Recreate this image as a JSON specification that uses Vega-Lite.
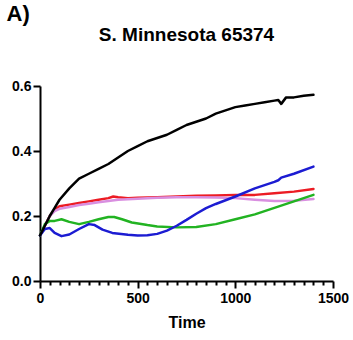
{
  "$schema": "https://vega.github.io/schema/vega-lite/v6.json",
  "padding": {"left": 6, "top": 3, "right": 0, "bottom": 2},
  "background": "white",
  "title": {"text": "A)", "anchor": "start", "fontSize": 22, "font": "Liberation Sans", "fontWeight": "bold", "color": "black", "frame": "bounds", "offset": 0, "dx": -5},
  "config": {
    "view": {"stroke": null},
    "font": "Liberation Sans",
    "concat": {"spacing": 0}
  },
  "vconcat": [
    {
      "width": 293,
      "height": 195,
      "title": {"text": "S. Minnesota 65374", "fontSize": 19, "fontWeight": "bold", "color": "black", "anchor": "middle", "frame": "group", "offset": 34},
      "data": {"values": [
        {"series": "red", "t": 0, "v": 0.14}, {"series": "red", "t": 25, "v": 0.17}, {"series": "red", "t": 50, "v": 0.2}, {"series": "red", "t": 75, "v": 0.22}, {"series": "red", "t": 100, "v": 0.23}, {"series": "red", "t": 150, "v": 0.235}, {"series": "red", "t": 200, "v": 0.24}, {"series": "red", "t": 250, "v": 0.245}, {"series": "red", "t": 300, "v": 0.25}, {"series": "red", "t": 350, "v": 0.255}, {"series": "red", "t": 375, "v": 0.26}, {"series": "red", "t": 400, "v": 0.258}, {"series": "red", "t": 450, "v": 0.255}, {"series": "red", "t": 500, "v": 0.256}, {"series": "red", "t": 600, "v": 0.258}, {"series": "red", "t": 700, "v": 0.26}, {"series": "red", "t": 800, "v": 0.262}, {"series": "red", "t": 900, "v": 0.263}, {"series": "red", "t": 1000, "v": 0.265}, {"series": "red", "t": 1100, "v": 0.265}, {"series": "red", "t": 1200, "v": 0.27}, {"series": "red", "t": 1300, "v": 0.275}, {"series": "red", "t": 1400, "v": 0.283},
        {"series": "violet", "t": 0, "v": 0.14}, {"series": "violet", "t": 25, "v": 0.17}, {"series": "violet", "t": 50, "v": 0.2}, {"series": "violet", "t": 75, "v": 0.215}, {"series": "violet", "t": 100, "v": 0.222}, {"series": "violet", "t": 150, "v": 0.228}, {"series": "violet", "t": 200, "v": 0.234}, {"series": "violet", "t": 250, "v": 0.238}, {"series": "violet", "t": 300, "v": 0.242}, {"series": "violet", "t": 350, "v": 0.246}, {"series": "violet", "t": 400, "v": 0.25}, {"series": "violet", "t": 500, "v": 0.253}, {"series": "violet", "t": 600, "v": 0.256}, {"series": "violet", "t": 700, "v": 0.258}, {"series": "violet", "t": 800, "v": 0.258}, {"series": "violet", "t": 900, "v": 0.257}, {"series": "violet", "t": 1000, "v": 0.255}, {"series": "violet", "t": 1100, "v": 0.25}, {"series": "violet", "t": 1200, "v": 0.246}, {"series": "violet", "t": 1300, "v": 0.247}, {"series": "violet", "t": 1400, "v": 0.252},
        {"series": "green", "t": 0, "v": 0.14}, {"series": "green", "t": 25, "v": 0.175}, {"series": "green", "t": 50, "v": 0.185}, {"series": "green", "t": 75, "v": 0.185}, {"series": "green", "t": 110, "v": 0.19}, {"series": "green", "t": 150, "v": 0.182}, {"series": "green", "t": 200, "v": 0.175}, {"series": "green", "t": 250, "v": 0.182}, {"series": "green", "t": 300, "v": 0.19}, {"series": "green", "t": 350, "v": 0.197}, {"series": "green", "t": 380, "v": 0.197}, {"series": "green", "t": 420, "v": 0.19}, {"series": "green", "t": 470, "v": 0.18}, {"series": "green", "t": 550, "v": 0.172}, {"series": "green", "t": 600, "v": 0.168}, {"series": "green", "t": 700, "v": 0.165}, {"series": "green", "t": 800, "v": 0.166}, {"series": "green", "t": 900, "v": 0.175}, {"series": "green", "t": 1000, "v": 0.19}, {"series": "green", "t": 1100, "v": 0.205}, {"series": "green", "t": 1200, "v": 0.225}, {"series": "green", "t": 1250, "v": 0.235}, {"series": "green", "t": 1300, "v": 0.245}, {"series": "green", "t": 1400, "v": 0.265},
        {"series": "blue", "t": 0, "v": 0.14}, {"series": "blue", "t": 25, "v": 0.16}, {"series": "blue", "t": 50, "v": 0.163}, {"series": "blue", "t": 75, "v": 0.148}, {"series": "blue", "t": 110, "v": 0.138}, {"series": "blue", "t": 150, "v": 0.143}, {"series": "blue", "t": 200, "v": 0.16}, {"series": "blue", "t": 250, "v": 0.175}, {"series": "blue", "t": 280, "v": 0.172}, {"series": "blue", "t": 320, "v": 0.158}, {"series": "blue", "t": 370, "v": 0.148}, {"series": "blue", "t": 450, "v": 0.142}, {"series": "blue", "t": 500, "v": 0.14}, {"series": "blue", "t": 550, "v": 0.141}, {"series": "blue", "t": 600, "v": 0.145}, {"series": "blue", "t": 650, "v": 0.155}, {"series": "blue", "t": 700, "v": 0.17}, {"series": "blue", "t": 750, "v": 0.188}, {"series": "blue", "t": 800, "v": 0.207}, {"series": "blue", "t": 850, "v": 0.224}, {"series": "blue", "t": 900, "v": 0.237}, {"series": "blue", "t": 1000, "v": 0.26}, {"series": "blue", "t": 1100, "v": 0.285}, {"series": "blue", "t": 1200, "v": 0.305}, {"series": "blue", "t": 1220, "v": 0.31}, {"series": "blue", "t": 1235, "v": 0.318}, {"series": "blue", "t": 1300, "v": 0.33}, {"series": "blue", "t": 1400, "v": 0.352},
        {"series": "black", "t": 0, "v": 0.14}, {"series": "black", "t": 25, "v": 0.17}, {"series": "black", "t": 50, "v": 0.2}, {"series": "black", "t": 75, "v": 0.225}, {"series": "black", "t": 100, "v": 0.25}, {"series": "black", "t": 150, "v": 0.285}, {"series": "black", "t": 200, "v": 0.315}, {"series": "black", "t": 250, "v": 0.33}, {"series": "black", "t": 300, "v": 0.345}, {"series": "black", "t": 350, "v": 0.36}, {"series": "black", "t": 400, "v": 0.38}, {"series": "black", "t": 450, "v": 0.4}, {"series": "black", "t": 500, "v": 0.415}, {"series": "black", "t": 550, "v": 0.43}, {"series": "black", "t": 600, "v": 0.44}, {"series": "black", "t": 650, "v": 0.45}, {"series": "black", "t": 700, "v": 0.465}, {"series": "black", "t": 750, "v": 0.48}, {"series": "black", "t": 800, "v": 0.49}, {"series": "black", "t": 850, "v": 0.5}, {"series": "black", "t": 900, "v": 0.515}, {"series": "black", "t": 950, "v": 0.525}, {"series": "black", "t": 1000, "v": 0.535}, {"series": "black", "t": 1050, "v": 0.54}, {"series": "black", "t": 1100, "v": 0.545}, {"series": "black", "t": 1150, "v": 0.55}, {"series": "black", "t": 1200, "v": 0.555}, {"series": "black", "t": 1220, "v": 0.557}, {"series": "black", "t": 1235, "v": 0.545}, {"series": "black", "t": 1260, "v": 0.565}, {"series": "black", "t": 1300, "v": 0.565}, {"series": "black", "t": 1350, "v": 0.57}, {"series": "black", "t": 1400, "v": 0.573}
      ]},
      "mark": {"type": "line", "strokeWidth": 2.5, "strokeCap": "round", "strokeJoin": "round"},
      "encoding": {
        "x": {
          "field": "t", "type": "quantitative",
          "scale": {"domain": [0, 1500], "nice": false, "zero": false},
          "axis": {
            "title": "Time", "titleFontSize": 16, "titleFontWeight": "bold", "titleColor": "black", "titlePadding": 9,
            "values": [0,50,100,150,200,250,300,350,400,450,500,550,600,650,700,750,800,850,900,950,1000,1050,1100,1150,1200,1250,1300,1350,1400,1450,1500],
            "labelExpr": "datum.value % 500 === 0 ? format(datum.value, 'd') : ''",
            "labelOverlap": false, "labelFlush": false,
            "labelFontSize": 14, "labelFontWeight": "bold", "labelColor": "black", "labelPadding": 3,
            "tickSize": {"condition": {"test": "datum.value % 500 === 0", "value": 7}, "value": 4},
            "tickColor": "black", "tickWidth": 2, "domainColor": "black", "domainWidth": 2, "grid": false
          }
        },
        "y": {
          "field": "v", "type": "quantitative",
          "scale": {"domain": [0, 0.6], "nice": false},
          "axis": {
            "title": null, "values": [0, 0.2, 0.4, 0.6], "format": ".1f",
            "labelFontSize": 14, "labelFontWeight": "bold", "labelColor": "black", "labelPadding": 2,
            "tickSize": 7, "tickColor": "black", "tickWidth": 2, "domainColor": "black", "domainWidth": 2, "grid": false
          }
        },
        "color": {
          "field": "series", "type": "nominal", "legend": null,
          "scale": {"domain": ["red", "violet", "green", "blue", "black"], "range": ["#ec1c24", "#d98fe0", "#22b322", "#1c1cd2", "#000000"]}
        }
      }
    }
  ]
}
